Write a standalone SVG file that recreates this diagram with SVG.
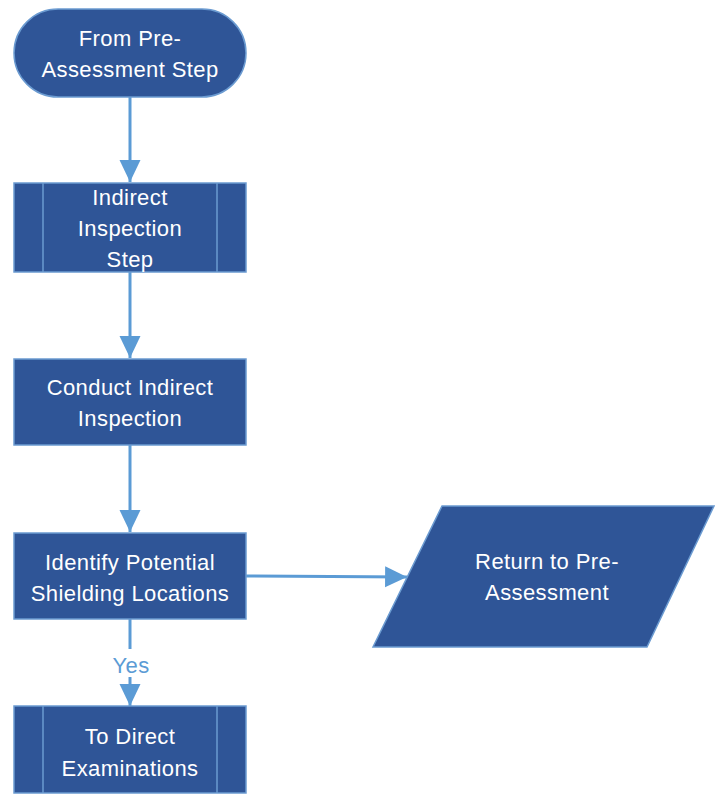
<svg xmlns="http://www.w3.org/2000/svg" width="715" height="794" viewBox="0 0 715 794">
<defs>
<style>
.node{fill:#2f5597;stroke:#6b9bd1;stroke-width:1.5}
.inner{stroke:#6b9bd1;stroke-width:1.5;fill:none}
.t{font-family:"Liberation Sans",Arial,sans-serif;font-size:22px;letter-spacing:0.4px;fill:#ffffff;text-anchor:middle}
.edge{stroke:#5b9bd5;stroke-width:3;fill:none}
.lbl{font-family:"Liberation Sans",Arial,sans-serif;font-size:22px;letter-spacing:0.4px;fill:#5b9bd5;text-anchor:middle}
</style>
<marker id="ah" markerWidth="8" markerHeight="8" refX="7.3" refY="3.5" orient="auto" markerUnits="strokeWidth">
<path d="M0,0 L7.3,3.5 L0,7 Z" fill="#5b9bd5"/>
</marker>
</defs>
<rect width="715" height="794" fill="#ffffff"/>
<g id="connectors">
<line class="edge" x1="130" y1="97" x2="130" y2="182" marker-end="url(#ah)"/>
<line class="edge" x1="130" y1="272" x2="130" y2="358" marker-end="url(#ah)"/>
<line class="edge" x1="130" y1="445" x2="130" y2="532" marker-end="url(#ah)"/>
<line class="edge" x1="246" y1="576" x2="407" y2="577" marker-end="url(#ah)"/>
<line class="edge" x1="130" y1="619" x2="130" y2="649"/>
<line class="edge" x1="130" y1="677" x2="130" y2="706" marker-end="url(#ah)"/>
<text class="lbl" x="131" y="673">Yes</text>
</g>
<g id="start">
<rect class="node" x="14" y="9" width="232" height="88" rx="44" ry="44"/>
<text class="t" x="130" y="46">From Pre-</text>
<text class="t" x="130" y="77">Assessment Step</text>
</g>
<g id="indirect-step">
<rect class="node" x="14" y="183" width="232" height="89"/>
<line class="inner" x1="43" y1="183" x2="43" y2="272"/>
<line class="inner" x1="217" y1="183" x2="217" y2="272"/>
<text class="t" x="130" y="205">Indirect</text>
<text class="t" x="130" y="236">Inspection</text>
<text class="t" x="130" y="267">Step</text>
</g>
<g id="conduct">
<rect class="node" x="14" y="359" width="232" height="86"/>
<text class="t" x="130" y="395">Conduct Indirect</text>
<text class="t" x="130" y="426">Inspection</text>
</g>
<g id="identify">
<rect class="node" x="14" y="533" width="232" height="86"/>
<text class="t" x="130" y="570">Identify Potential</text>
<text class="t" x="130" y="601">Shielding Locations</text>
</g>
<g id="return">
<polygon class="node" points="442,506 714,506 647,647 373,647"/>
<text class="t" x="547" y="569">Return to Pre-</text>
<text class="t" x="547" y="600">Assessment</text>
</g>
<g id="direct">
<rect class="node" x="14" y="706" width="232" height="87"/>
<line class="inner" x1="43" y1="706" x2="43" y2="793"/>
<line class="inner" x1="217" y1="706" x2="217" y2="793"/>
<text class="t" x="130" y="744">To Direct</text>
<text class="t" x="130" y="776">Examinations</text>
</g>
</svg>
